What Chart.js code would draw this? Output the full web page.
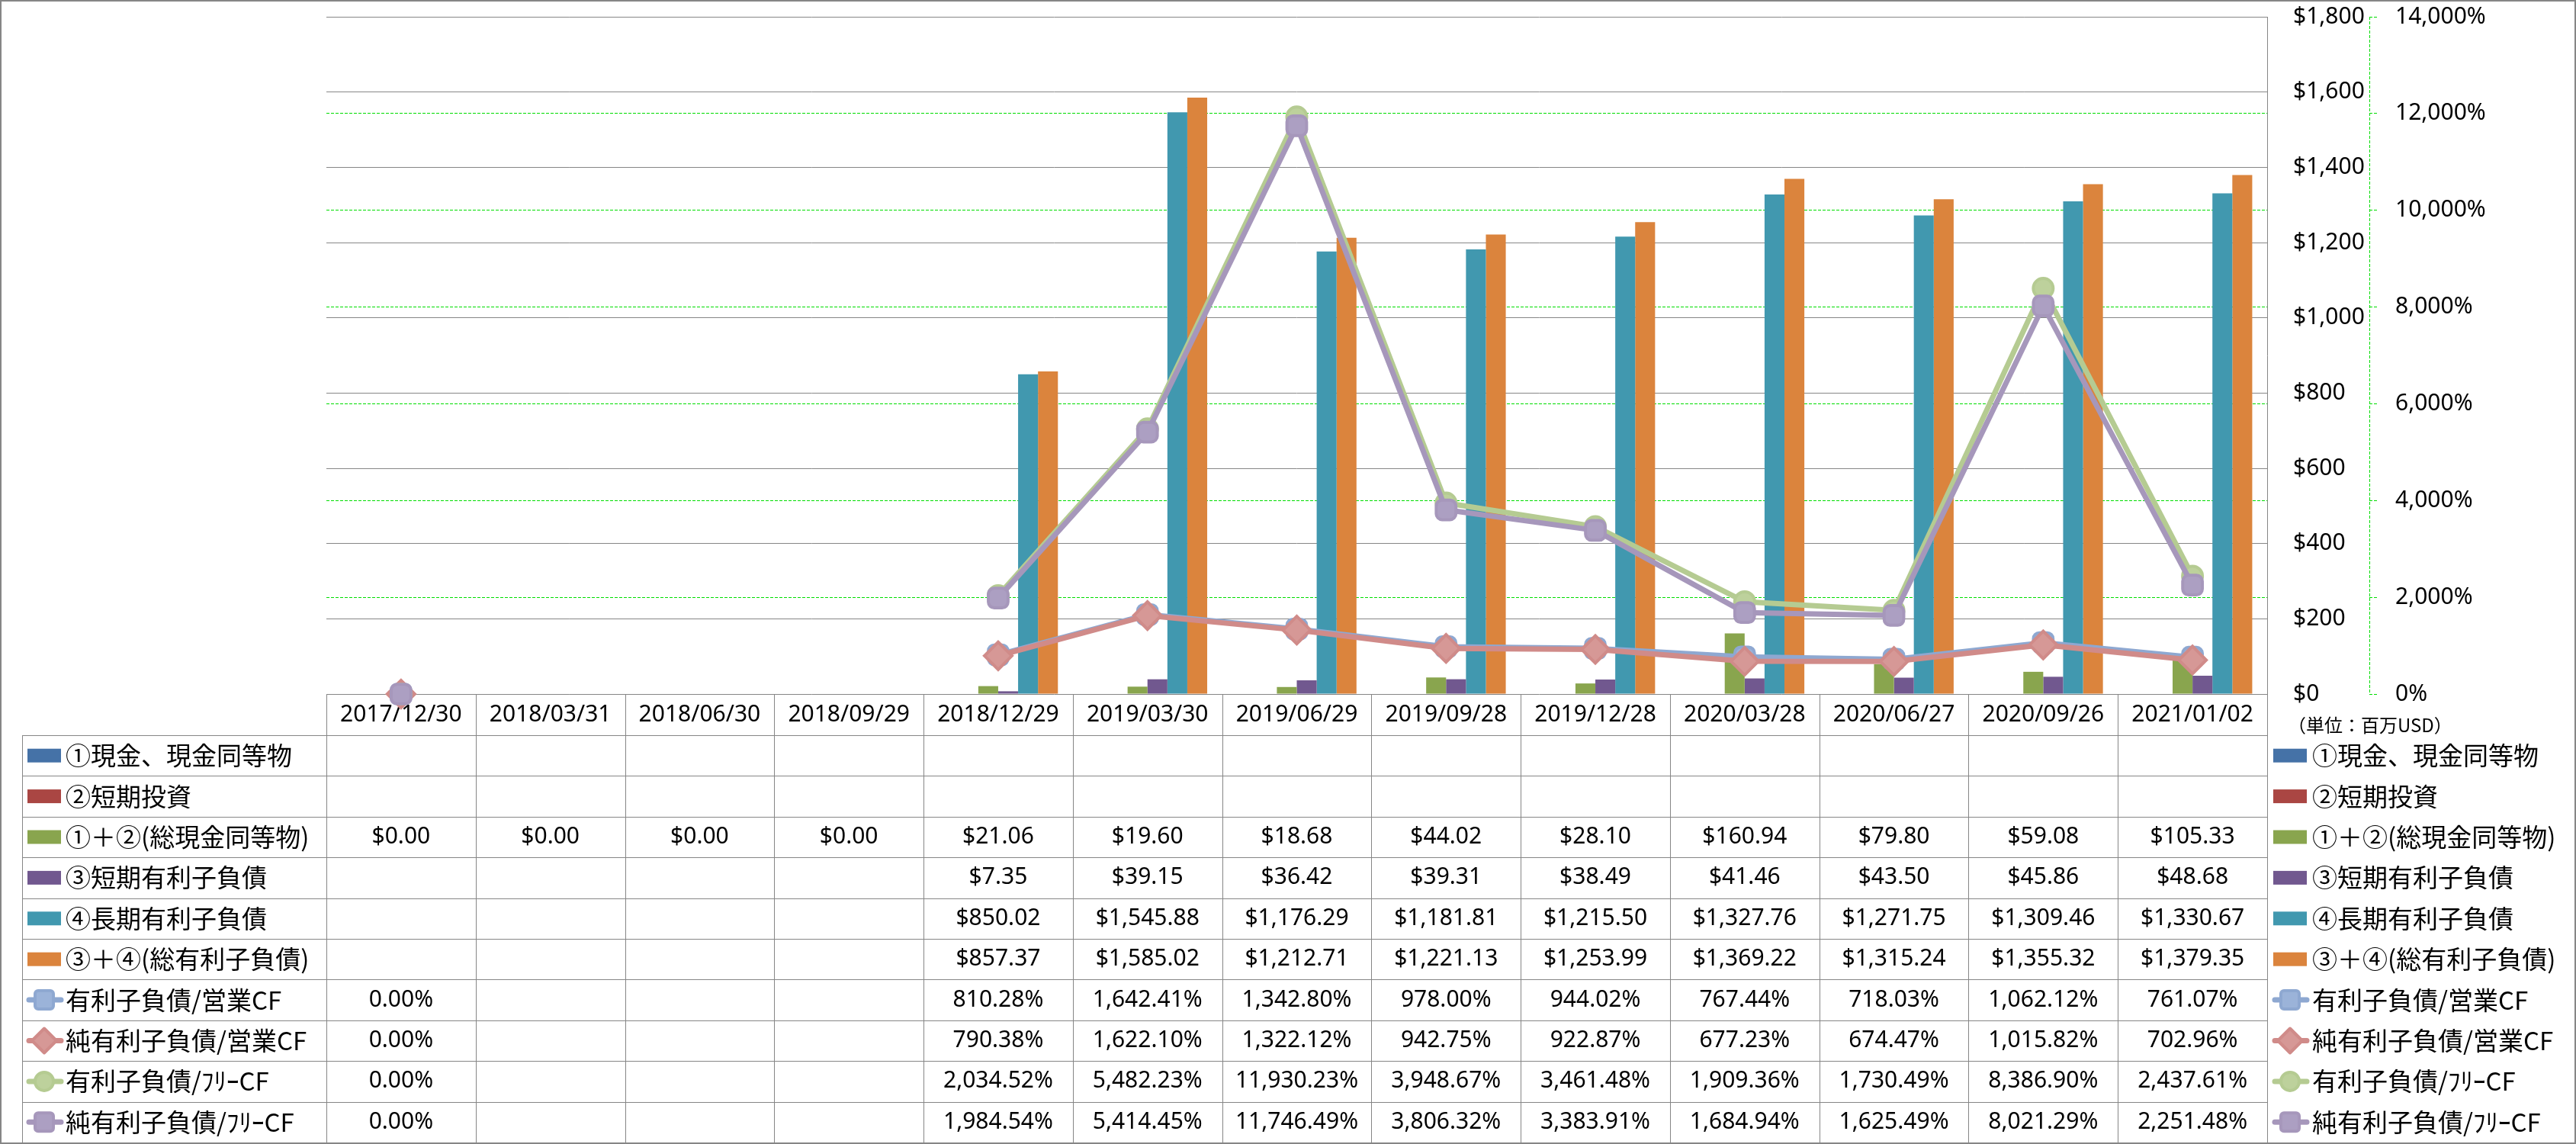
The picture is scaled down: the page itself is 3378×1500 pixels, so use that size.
<!DOCTYPE html>
<html lang="ja">
<head>
<meta charset="utf-8">
<title>有利子負債と現金同等物</title>
<script src="https://cdn.jsdelivr.net/npm/chart.js@4.4.1/dist/chart.umd.min.js"></script>
<style>
  html, body { margin: 0; padding: 0; background: #fff; }
  #wrap { width: 3378px; height: 1500px; }
</style>
</head>
<body>
<div id="wrap"><canvas id="chart" width="3378" height="1500"></canvas></div>
<script>
// quarter ends
const dates = ["2017/12/30", "2018/03/31", "2018/06/30", "2018/09/29", "2018/12/29", "2019/03/30",
  "2019/06/29", "2019/09/28", "2019/12/28", "2020/03/28", "2020/06/27", "2020/09/26", "2021/01/02"];

// $ millions
const cashEq = [null, null, null, null, null, null, null, null, null, null, null, null, null];
const shortInvest = [null, null, null, null, null, null, null, null, null, null, null, null, null];
const totalCash = [0, 0, 0, 0, 21.06, 19.60, 18.68, 44.02, 28.10, 160.94, 79.80, 59.08, 105.33];
const shortDebt = [null, null, null, null, 7.35, 39.15, 36.42, 39.31, 38.49, 41.46, 43.50, 45.86, 48.68];
const longDebt = [null, null, null, null, 850.02, 1545.88, 1176.29, 1181.81, 1215.50, 1327.76, 1271.75, 1309.46, 1330.67];
const totalDebt = [null, null, null, null, 857.37, 1585.02, 1212.71, 1221.13, 1253.99, 1369.22, 1315.24, 1355.32, 1379.35];

// ratios in %
const debtOpCF = [0, null, null, null, 810.28, 1642.41, 1342.80, 978.00, 944.02, 767.44, 718.03, 1062.12, 761.07];
const netDebtOpCF = [0, null, null, null, 790.38, 1622.10, 1322.12, 942.75, 922.87, 677.23, 674.47, 1015.82, 702.96];
const debtFCF = [0, null, null, null, 2034.52, 5482.23, 11930.23, 3948.67, 3461.48, 1909.36, 1730.49, 8386.90, 2437.61];
const netDebtFCF = [0, null, null, null, 1984.54, 5414.45, 11746.49, 3806.32, 3383.91, 1684.94, 1625.49, 8021.29, 2251.48];

const LATIN = "'Noto Sans', 'DejaVu Sans', sans-serif";
const CJK = "'Noto Sans CJK JP', 'Noto Sans', sans-serif";
const GRID = "#868686";
const GREEN = "#00dd00";

const barSeries = [
  { label: "①現金、現金同等物", data: cashEq, color: "#4572A7" },
  { label: "②短期投資", data: shortInvest, color: "#AA4643" },
  { label: "①＋②(総現金同等物)", data: totalCash, color: "#89A54E" },
  { label: "③短期有利子負債", data: shortDebt, color: "#71588F" },
  { label: "④長期有利子負債", data: longDebt, color: "#4198AF" },
  { label: "③＋④(総有利子負債)", data: totalDebt, color: "#DB843D" }
];
const lineSeries = [
  { label: "有利子負債/営業CF", data: debtOpCF, color: "#8EA8D1", fill: "#9BB3D9", style: "rectRounded", radius: 15 },
  { label: "純有利子負債/営業CF", data: netDebtOpCF, color: "#D08B89", fill: "#D69896", style: "rectRot", radius: 18 },
  { label: "有利子負債/ﾌﾘｰCF", data: debtFCF, color: "#B5CB92", fill: "#BDD19C", style: "circle", radius: 13 },
  { label: "純有利子負債/ﾌﾘｰCF", data: netDebtFCF, color: "#A697BB", fill: "#AC9FC2", style: "rectRounded", radius: 15 }
];

const money = v => "$" + v.toLocaleString("en-US", { minimumFractionDigits: 2, maximumFractionDigits: 2 });
const pct = v => v.toLocaleString("en-US", { minimumFractionDigits: 2, maximumFractionDigits: 2 }) + "%";

const datasets = [];
barSeries.forEach(s => datasets.push({
  type: "bar", label: s.label, data: s.data, yAxisID: "y", order: 10,
  backgroundColor: s.color, borderWidth: 0,
  categoryPercentage: 0.8, barPercentage: 1.0
}));
lineSeries.forEach((s, i) => datasets.push({
  type: "line", label: s.label, data: s.data, yAxisID: "y2", order: 4 - i,
  borderColor: s.color, borderWidth: 7, borderJoinStyle: "round", tension: 0, spanGaps: false,
  pointStyle: s.style, pointRadius: s.radius, pointBorderWidth: 4,
  pointBackgroundColor: s.fill, pointBorderColor: s.color, clip: false
}));

// small legend marks, same look as the plotted ones
function drawSymbol(ctx, s, x, y, isBar) {
  ctx.save();
  if (isBar) {
    ctx.fillStyle = s.color;
    ctx.fillRect(x, y - 9, 44, 18);
  } else {
    const cx = x + 22;
    ctx.strokeStyle = s.color;
    ctx.lineWidth = 7;
    ctx.lineCap = "round";
    ctx.beginPath(); ctx.moveTo(x + 2, y); ctx.lineTo(x + 44, y); ctx.stroke();
    ctx.fillStyle = s.fill;
    ctx.lineWidth = 4;
    ctx.lineJoin = "round";
    ctx.beginPath();
    if (s.style === "circle") {
      ctx.arc(cx, y, 12, 0, Math.PI * 2);
    } else if (s.style === "rectRot") {
      ctx.moveTo(cx, y - 16); ctx.lineTo(cx + 16, y); ctx.lineTo(cx, y + 16); ctx.lineTo(cx - 16, y); ctx.closePath();
    } else {
      ctx.roundRect(cx - 12, y - 12, 24, 24, 4);
    }
    ctx.fill(); ctx.stroke();
  }
  ctx.restore();
}

// keep tick label padding from pushing the plot area down
function fixAxis(w) {
  return s => { s.width = w; s.paddingTop = 0; s.paddingBottom = 0; };
}

const tablePlugin = {
  id: "dataTable",
  beforeDatasetsDraw(chart) {
    const { ctx, chartArea, scales } = chart;
    const xs = scales.x, y2 = scales.y2;
    const n = dates.length;
    const colW = (xs.right - xs.left) / n;
    const tableLeft = 29;
    const headBottom = chartArea.bottom + 54;
    const rowH = (1498 - headBottom) / 10;
    const rows = barSeries.map(s => ({ s, bar: true })).concat(lineSeries.map(s => ({ s, bar: false })));

    ctx.save();
    ctx.strokeStyle = GRID;
    ctx.lineWidth = 1;
    ctx.beginPath();
    for (let r = 0; r <= rows.length; r++) {
      const yy = Math.round(headBottom + r * rowH) + 0.5;
      ctx.moveTo(tableLeft, yy); ctx.lineTo(xs.right, yy);
    }
    ctx.moveTo(tableLeft + 0.5, headBottom); ctx.lineTo(tableLeft + 0.5, 1498);
    for (let c = 0; c <= n; c++) {
      const xx = Math.round(xs.left + c * colW) + 0.5;
      ctx.moveTo(xx, chartArea.bottom); ctx.lineTo(xx, 1498);
    }
    ctx.stroke();

    // secondary axis line, dashed like its grid
    ctx.strokeStyle = GREEN;
    ctx.setLineDash([4, 2]);
    ctx.beginPath();
    ctx.moveTo(y2.left + 0.5, chartArea.top); ctx.lineTo(y2.left + 0.5, chartArea.bottom);
    ctx.stroke();
    ctx.setLineDash([]);

    ctx.fillStyle = "#000";
    ctx.textBaseline = "middle";
    rows.forEach((row, r) => {
      const cy = headBottom + (r + 0.5) * rowH;
      drawSymbol(ctx, row.s, 36, cy, row.bar);
      drawSymbol(ctx, row.s, 2981, cy, row.bar);
      ctx.fillStyle = "#000";
      ctx.font = "33px " + CJK;
      ctx.textAlign = "left";
      ctx.fillText(row.s.label, 86, cy);
      ctx.fillText(row.s.label, 3032, cy);
      ctx.font = "30px " + LATIN;
      ctx.textAlign = "center";
      row.s.data.forEach((v, j) => {
        if (v === null) return;
        ctx.fillText(row.bar ? money(v) : pct(v), xs.getPixelForValue(j), cy);
      });
    });

    ctx.font = "24px " + CJK;
    ctx.textAlign = "left";
    ctx.fillText("（単位：百万USD）", 3000, 951);
    ctx.restore();
  },
  afterDraw(chart) {
    const ctx = chart.ctx;
    ctx.save();
    ctx.strokeStyle = GRID;
    ctx.lineWidth = 2;
    ctx.strokeRect(1, 1, 3376, 1498);
    ctx.restore();
  }
};

new Chart(document.getElementById("chart"), {
  type: "bar",
  data: { labels: dates, datasets },
  plugins: [tablePlugin],
  options: {
    responsive: false,
    devicePixelRatio: 1,
    animation: false,
    events: [],
    layout: { padding: { left: 428, top: 21, right: 0, bottom: 0 } },
    plugins: { legend: { display: false }, tooltip: { enabled: false } },
    scales: {
      x: {
        offset: true,
        grid: { display: false, drawTicks: false },
        border: { display: false },
        ticks: { color: "#000", font: { family: LATIN, size: 30 }, padding: 9, maxRotation: 0, autoSkip: false },
        afterFit: s => { s.height = 590; s.paddingLeft = 0; s.paddingRight = 0; }
      },
      y: {
        position: "right", weight: 0, min: 0, max: 1800,
        grid: { color: GRID, lineWidth: 1, drawTicks: false },
        border: { display: true, color: GRID, width: 1 },
        ticks: {
          stepSize: 200, color: "#000", font: { family: LATIN, size: 30 }, padding: 34, crossAlign: "near",
          callback: v => "$" + v.toLocaleString("en-US")
        },
        afterFit: fixAxis(134)
      },
      y2: {
        position: "right", weight: 1, min: 0, max: 14000,
        grid: {
          color: c => (c.tick && (c.tick.value === 0 || c.tick.value === 14000)) ? "rgba(0,0,0,0)" : GREEN,
          lineWidth: 1, drawTicks: true, tickLength: 12, tickColor: GREEN, tickWidth: 1, tickBorderDash: [4, 2]
        },
        border: { display: false, dash: [4, 2] },
        ticks: {
          stepSize: 2000, color: "#000", font: { family: LATIN, size: 30 }, padding: 22, crossAlign: "near",
          callback: v => v.toLocaleString("en-US") + "%"
        },
        afterFit: fixAxis(271)
      }
    }
  }
});
</script>
</body>
</html>
